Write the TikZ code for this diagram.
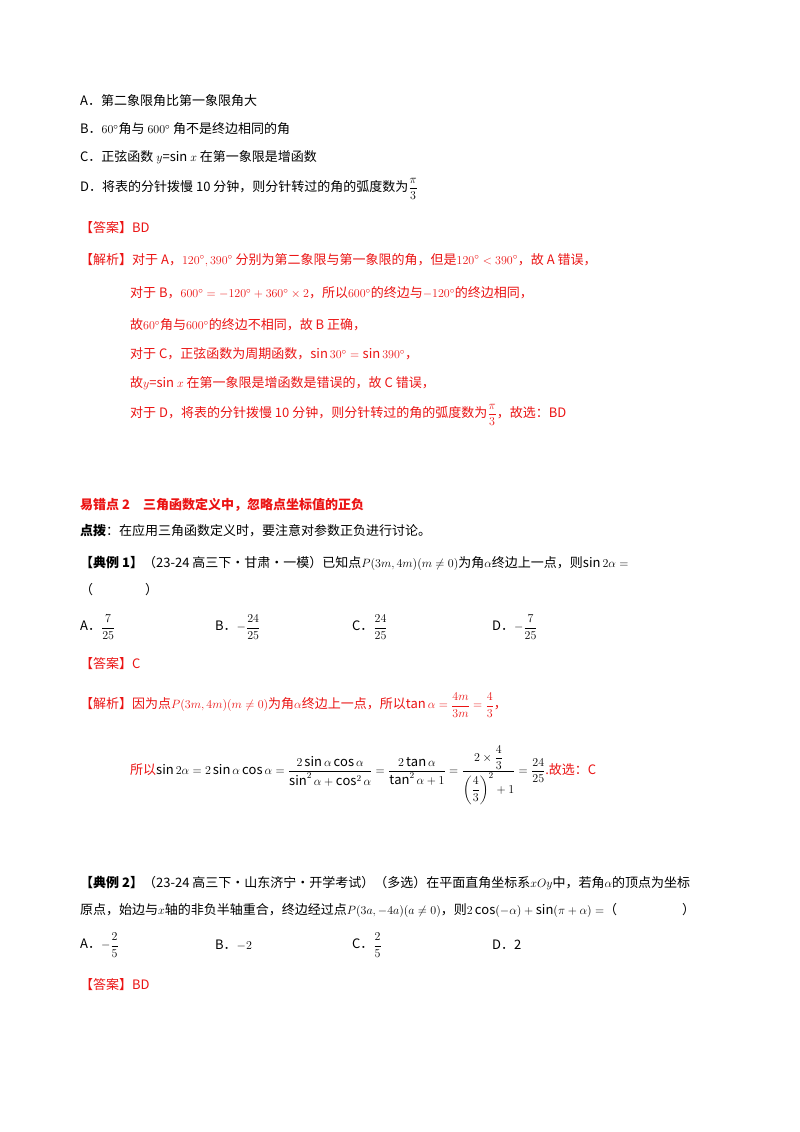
\documentclass[tikz,border=0pt]{standalone}
\usepackage{amsmath}
\usepackage{fontspec}
\setmainfont{Noto Sans CJK SC}
\definecolor{ansred}{RGB}{235,20,20}
\begin{document}
\begin{tikzpicture}[x=1pt,y=-1pt,
  t/.style={anchor=west,inner sep=0pt,font=\fontsize{13}{15}\selectfont},
  r/.style={t,text=ansred}]
\useasboundingbox[fill=white] (0,0) rectangle (800,1132);
\node[t] (a) at (80,101) {A．第二象限角比第一象限角大};
\node[t] (b) at (80,129) {B．$60^\circ$角与 $600^\circ$ 角不是终边相同的角};
\node[t] (c) at (80,157) {C．正弦函数 $y$=sin $x$ 在第一象限是增函数};
\node[t] (d) at (80,189) {D．将表的分针拨慢 10 分钟，则分针转过的角的弧度数为$\dfrac{\pi}{3}$};
\node[r] (ans1) at (80,228) {【答案】BD};
\node[r] (j1) at (80,260) {【解析】对于 A，$120^\circ,390^\circ$ 分别为第二象限与第一象限的角，但是$120^\circ<390^\circ$，故 A 错误，};
\node[r] (j2) at (130,293) {对于 B，$600^\circ=-120^\circ+360^\circ\times 2$，所以$600^\circ$的终边与$-120^\circ$的终边相同，};
\node[r] (j3) at (130,325) {故$60^\circ$角与$600^\circ$的终边不相同，故 B 正确，};
\node[r] (j4) at (130,354) {对于 C，正弦函数为周期函数，$\sin 30^\circ=\sin 390^\circ$，};
\node[r] (j5) at (130,383) {故$y$=sin $x$ 在第一象限是增函数是错误的，故 C 错误，};
\node[r] (j6) at (130,415) {对于 D，将表的分针拨慢 10 分钟，则分针转过的角的弧度数为$\dfrac{\pi}{3}$，故选：BD};
\node[r,font=\fontsize{13}{15}\selectfont\bfseries] (e2) at (80,505) {易错点 2\quad 三角函数定义中，忽略点坐标值的正负};
\node[t] (db) at (80,531) {\textbf{点拨}：在应用三角函数定义时，要注意对参数正负进行讨论。};
\node[t] (l1) at (80,563) {\textbf{【典例 1】}（23-24 高三下·甘肃·一模）已知点$P(3m,4m)(m\neq0)$为角$\alpha$终边上一点，则$\sin2\alpha=$};
\node[t] (l1b) at (80,590) {（\qquad\qquad ）};
\node[t] (o1) at (80,627) {A．$\dfrac{7}{25}$};
\node[t] (o2) at (215,627) {B．$-\dfrac{24}{25}$};
\node[t] (o3) at (352,627) {C．$\dfrac{24}{25}$};
\node[t] (o4) at (492,627) {D．$-\dfrac{7}{25}$};
\node[r] (ans2) at (80,664) {【答案】C};
\node[r] (k1) at (80,705) {【解析】因为点$P(3m,4m)(m\neq0)$为角$\alpha$终边上一点，所以$\tan\alpha=\dfrac{4m}{3m}=\dfrac{4}{3}$，};
\node[r] (k2) at (130,775) {所以\textcolor{black}{$\sin2\alpha=2\sin\alpha\cos\alpha=\dfrac{2\sin\alpha\cos\alpha}{\sin^2\alpha+\cos^2\alpha}=\dfrac{2\tan\alpha}{\tan^2\alpha+1}=\dfrac{2\times\dfrac{4}{3}}{\left(\dfrac{4}{3}\right)^2+1}=\dfrac{24}{25}$}.故选：C};
\node[t] (l2) at (80,883) {\textbf{【典例 2】}（23-24 高三下·山东济宁·开学考试）（多选）在平面直角坐标系$xOy$中，若角$\alpha$的顶点为坐标};
\node[t] (l2b) at (80,910) {原点，始边与$x$轴的非负半轴重合，终边经过点$P(3a,-4a)(a\neq0)$，则$2\cos(-\alpha)+\sin(\pi+\alpha)=$（\qquad\qquad\quad ）};
\node[t] (p1) at (80,945) {A．$-\dfrac{2}{5}$};
\node[t] (p2) at (215,945) {B．$-2$};
\node[t] (p3) at (352,945) {C．$\dfrac{2}{5}$};
\node[t] (p4) at (492,945) {D．2};
\node[r] (ans3) at (80,985) {【答案】BD};
\end{tikzpicture}
\end{document}
